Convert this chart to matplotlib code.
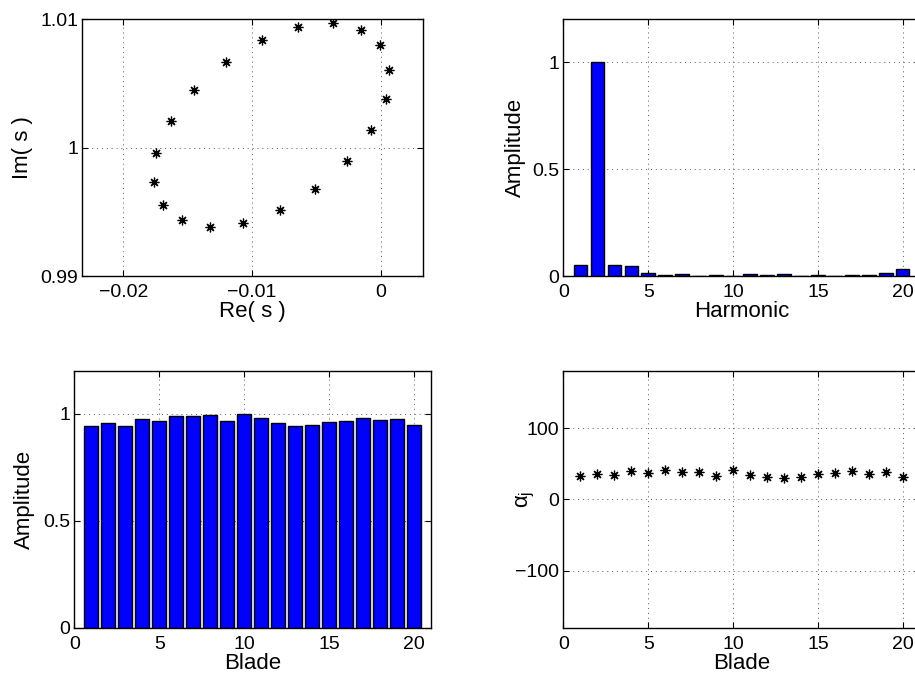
import numpy as np
import matplotlib
matplotlib.use('Agg')
import matplotlib.pyplot as plt

plt.rcParams['font.family'] = ['Liberation Sans', 'DejaVu Sans']
plt.rcParams['mathtext.fontset'] = 'custom'
plt.rcParams['mathtext.rm'] = 'Liberation Sans'
plt.rcParams['mathtext.it'] = 'Liberation Sans'

# eigenvalues s (Re, Im)
re_s = [-0.01745, -0.0176, -0.01695, -0.01547, -0.01331, -0.0107, -0.00786,
        -0.00508, -0.0026, -0.00073, 0.00039, 0.00065, -0.00005, -0.00154,
        -0.00372, -0.00641, -0.00927, -0.01206, -0.01453, -0.01633]
im_s = [0.99958, 0.99736, 0.99556, 0.99433, 0.99384, 0.99413, 0.99512,
        0.99676, 0.99893, 1.00136, 1.00381, 1.00608, 1.00796, 1.00919,
        1.00974, 1.00943, 1.00838, 1.00668, 1.00452, 1.00209]

harmonic = np.arange(1, 21)
harm_amp = [0.05, 1.0, 0.053, 0.045, 0.016, 0.005, 0.008, 0.001, 0.006, 0.001,
            0.009, 0.005, 0.009, 0.001, 0.004, 0.001, 0.005, 0.005, 0.013, 0.031]

blade = np.arange(1, 21)
blade_amp = [0.942, 0.955, 0.944, 0.974, 0.966, 0.989, 0.988, 0.994, 0.966,
             0.998, 0.978, 0.955, 0.944, 0.946, 0.961, 0.966, 0.981, 0.969,
             0.975, 0.947]
alpha = [32.3, 36, 33.7, 40.3, 36.5, 41.2, 38.4, 38.9, 32.8, 40.7, 34.7,
         30.9, 30, 31.9, 36, 36.5, 39.3, 35.6, 37.9, 31.4]

fig = plt.figure(figsize=(9.15, 6.82), dpi=100)
ax1 = fig.add_axes([0.0899, 0.5953, 0.3727, 0.3764])
ax2 = fig.add_axes([0.6158, 0.5953, 0.3893, 0.3764])
ax3 = fig.add_axes([0.0812, 0.0796, 0.3898, 0.3764])
ax4 = fig.add_axes([0.6158, 0.0796, 0.3893, 0.3764])

star = (8, 2, 0)


def style(ax):
    ax.grid(True, linestyle=(0, (1, 4)), color='0.35', linewidth=0.7)
    ax.set_axisbelow(True)
    ax.tick_params(direction='in', top=True, right=True, length=4,
                   labelsize=14, width=0.8)
    ax.tick_params(axis='x', pad=6)
    ax.tick_params(axis='y', pad=3)
    for s in ax.spines.values():
        s.set_linewidth(1.0)


ax1.plot(re_s, im_s, linestyle='none', marker=star, markersize=7,
         color='black', markeredgewidth=0.9)
ax1.set_xlim(-0.0232, 0.0033)
ax1.set_ylim(0.99, 1.01)
ax1.set_xticks([-0.02, -0.01, 0])
ax1.set_xticklabels(['\u22120.02', '\u22120.01', '0'])
ax1.set_yticks([0.99, 1, 1.01])
ax1.set_yticklabels(['0.99', '1', '1.01'])
ax1.set_xlabel('Re( s )', fontsize=16, labelpad=0)
ax1.set_ylabel('Im( s )', fontsize=16)
ax1.yaxis.set_label_coords(-0.145, 0.5)
style(ax1)

ax2.bar(harmonic, harm_amp, width=0.8, color='#0000ff', edgecolor='black',
        linewidth=1.0)
ax2.set_xlim(0, 21)
ax2.set_ylim(0, 1.2)
ax2.set_xticks([0, 5, 10, 15, 20])
ax2.set_yticks([0, 0.5, 1])
ax2.set_yticklabels(['0', '0.5', '1'])
ax2.set_xlabel('Harmonic', fontsize=16, labelpad=0)
ax2.set_ylabel('Amplitude', fontsize=16)
ax2.yaxis.set_label_coords(-0.105, 0.5)
style(ax2)

ax3.bar(blade, blade_amp, width=0.8, color='#0000ff', edgecolor='black',
        linewidth=1.0)
ax3.set_xlim(0, 21)
ax3.set_ylim(0, 1.2)
ax3.set_xticks([0, 5, 10, 15, 20])
ax3.set_yticks([0, 0.5, 1])
ax3.set_yticklabels(['0', '0.5', '1'])
ax3.set_xlabel('Blade', fontsize=16, labelpad=0)
ax3.set_ylabel('Amplitude', fontsize=16)
ax3.yaxis.set_label_coords(-0.11, 0.5)
style(ax3)

ax4.plot(blade, alpha, linestyle='none', marker=star, markersize=7,
         color='black', markeredgewidth=0.9)
ax4.set_xlim(0, 21)
ax4.set_ylim(-180, 180)
ax4.set_xticks([0, 5, 10, 15, 20])
ax4.set_yticks([-100, 0, 100])
ax4.set_yticklabels(['\u2212100', '0', '100'])
ax4.set_xlabel('Blade', fontsize=16, labelpad=0)
ax4.set_ylabel(r'$\alpha_j$', fontsize=16)
ax4.yaxis.set_label_coords(-0.075, 0.5)
style(ax4)

fig.savefig('out.png', dpi=100)
